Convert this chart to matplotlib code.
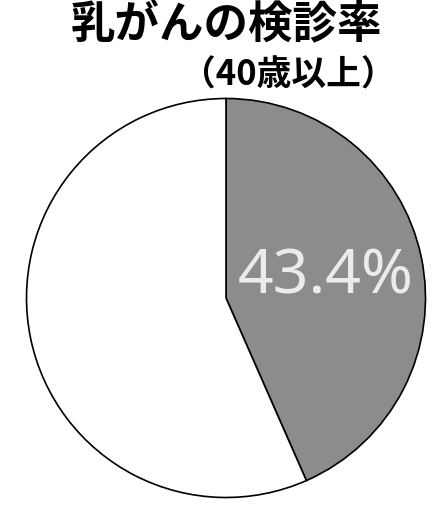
import matplotlib
matplotlib.use("Agg")
import matplotlib.pyplot as plt

# Data
labels = ["受診した", "受診していない"]
rates = [43.4, 56.6]
title = "乳がんの検診率"
subtitle = "（40歳以上）"

plt.rcParams['font.family'] = ['Noto Sans CJK JP', 'DejaVu Sans']

fig = plt.figure(figsize=(4.47, 5.18), dpi=100)
ax = fig.add_axes([0, 0, 1, 1])

wedges, texts, autotexts = ax.pie(
    rates,
    colors=["#8c8c8c", "white"],
    startangle=90,
    counterclock=False,
    center=(226, 220),
    radius=199.5,
    autopct=lambda p: f"{p:.1f}%" if p < 50 else "",
    pctdistance=0.51,
    wedgeprops=dict(edgecolor="black", linewidth=1.2),
    frame=True,
)
for t in autotexts:
    t.set_color("#ebebeb")
    t.set_fontsize(45)
    t.set_family(["Noto Sans", "DejaVu Sans"])

ax.set_xlim(0, 447)
ax.set_ylim(0, 518)
ax.axis("off")

fig.text(226 / 447, 493 / 518, title, ha="center", va="center",
         fontsize=32, fontweight="bold")
fig.text(288 / 447, 443 / 518, subtitle, ha="center", va="center",
         fontsize=25, fontweight="bold")

fig.savefig("out.png", dpi=100)
